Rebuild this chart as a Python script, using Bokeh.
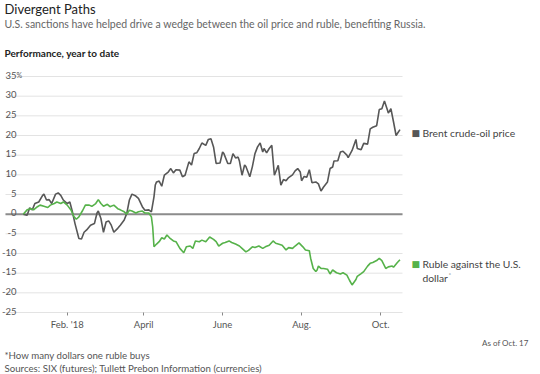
from bokeh.plotting import figure
from bokeh.models import Label, FixedTicker, Range1d, ColumnDataSource
from bokeh.core.properties import value
from bokeh.embed import file_html
from bokeh.resources import INLINE

# ---- data (days since Jan 1 2018, % change year to date) ----
brent_day = [-3, 0, 2, 4, 6, 9, 12, 13, 15, 17, 19, 22, 24, 26, 28, 31, 33, 35, 37, 40, 42, 44, 46, 49,
             52, 54, 55, 57, 59, 61, 63, 65, 67, 70, 72, 75, 77, 79, 81, 84, 86, 89, 91, 94, 96, 98,
             99, 100, 102, 104, 106, 109, 111, 113, 115, 118, 120, 122, 125, 127, 129, 131, 133, 135,
             138, 140, 142, 144, 146, 149, 151, 152, 155, 157, 159, 161, 163, 164, 166, 168, 169, 172,
             174, 176, 178, 180, 182, 183, 185, 187, 189, 191, 194, 196, 198, 200, 202, 205, 207, 209,
             211, 212, 214, 216, 218, 220, 223, 225, 227, 229, 232, 234, 236, 237, 240, 242, 244, 247,
             248, 251, 254, 255, 258, 260, 263, 265, 267, 270, 272, 274, 276, 278, 279, 281, 283, 285,
             286, 288]
brent_val = [0, -0.3, 1.6, 1.1, 2.7, 3.1, 4.8, 5.1, 3.6, 3.7, 2.7, 5.1, 5.4, 4.8, 3.6, 2.7, 3.1, 0.6,
             -2.4, -6.2, -6.3, -4.6, -4.0, -2.8, -2.4, 0.3, 0.8, -1.1, -4.6, -2.0, -1.7, -2.8, -4.6,
             -3.6, -2.8, -1.5, 0.2, 3.6, 5.1, 4.6, 4.0, 1.9, 1.0, 1.1, 0.6, 4.4, 7.4, 8.2, 8.4, 7.1,
             9.9, 10.7, 11.6, 10.5, 11.3, 11.2, 9.5, 9.9, 13.3, 12.5, 15.4, 15.6, 16.7, 18.1, 17.5,
             19.0, 19.2, 17.1, 12.9, 13.0, 15.8, 15.4, 12.9, 12.9, 15.4, 14.3, 14.5, 13.5, 9.9, 12.5,
             12.1, 9.5, 12.1, 15.4, 17.1, 18.1, 15.8, 16.7, 15.6, 16.7, 17.5, 9.9, 12.4, 7.4, 8.8, 8.5,
             9.3, 10.0, 11.0, 11.6, 10.7, 8.5, 9.6, 9.4, 11.3, 8.0, 8.2, 7.7, 5.9, 6.9, 8.2, 11.6,
             12.0, 13.5, 13.6, 15.8, 16.0, 15.0, 14.4, 16.2, 19.0, 16.7, 16.4, 18.0, 17.8, 21.7, 22.1,
             22.5, 26.6, 26.8, 28.8, 26.8, 25.7, 26.8, 23.5, 20.0, 20.5, 21.5]

ruble_day = [-3, 0, 3, 5, 8, 10, 13, 16, 18, 21, 23, 26, 28, 31, 34, 36, 38, 40, 43, 45, 48, 50, 53,
             55, 57, 59, 62, 64, 67, 70, 72, 75, 77, 79, 81, 84, 86, 89, 91, 94, 96, 97, 98, 100, 102,
             104, 106, 108, 110, 113, 115, 118, 121, 123, 126, 128, 130, 133, 135, 138, 141, 144, 146,
             148, 151, 153, 156, 158, 161, 164, 166, 169, 171, 174, 176, 179, 182, 184, 187, 190, 192,
             194, 197, 200, 202, 205, 207, 210, 213, 215, 218, 219, 221, 223, 224, 225, 227, 229, 232,
             234, 236, 239, 242, 244, 247, 249, 251, 254, 255, 258, 260, 263, 265, 267, 270, 272, 274,
             277, 279, 282, 283, 286, 288]
ruble_val = [0, 1.1, 1.4, 1.1, 1.9, 2.3, 2.0, 1.7, 2.3, 2.7, 3.1, 2.7, 3.1, 2.3, 1.0, -0.5, -1.3, -0.7,
             1.0, 2.3, 2.3, 2.0, 2.7, 3.7, 2.7, 2.0, 2.5, 1.9, 2.3, 1.4, 1.1, 0.6, 0.0, 1.0, 0.8, 0.3,
             0.6, 0.8, 0.3, 0.3, -0.7, -3.2, -8.3, -7.6, -7.0, -6.0, -6.3, -5.3, -6.0, -6.8, -7.0,
             -8.7, -9.8, -8.3, -8.1, -8.7, -6.8, -7.0, -6.6, -7.0, -5.8, -6.4, -7.0, -8.1, -7.4, -7.2,
             -6.8, -7.2, -7.6, -8.1, -8.7, -9.6, -9.2, -8.3, -8.5, -8.1, -8.7, -8.3, -7.9, -6.8, -7.4,
             -7.6, -7.9, -9.1, -8.5, -8.7, -8.1, -7.3, -8.3, -9.1, -9.3, -11.2, -13.8, -14.6, -14.2,
             -13.2, -13.8, -13.8, -14.0, -15.2, -14.2, -14.9, -15.2, -14.9, -15.5, -16.8, -18.0, -16.6,
             -15.8, -15.1, -14.6, -13.2, -12.5, -12.3, -11.8, -11.2, -11.8, -13.8, -13.4, -13.2,
             -13.5, -12.3, -11.6]

y_ticks = [-25, -20, -15, -10, -5, 0, 5, 10, 15, 20, 25, 30, 35]
y_tick_labels = ["-25", "-20", "-15", "-10", "-5", "0", "5", "10", "15", "20", "25", "30", "35"]
x_ticks = [31, 90, 151, 212, 273]
x_tick_labels = ["Feb. '18", "April", "June", "Aug.", "Oct."]

FONT = "Lato"
GREY_LINE = "#575757"
GREEN = "#56b24a"
TXT = "#555555"

W, H = 540, 374
# pixel geometry of the plot area (canvas coordinates, origin top-left)
PX0, PX_PER_DAY = 26.6, 1.2947          # x pixel of Jan 1, pixels per day
PY0, PY_PER_PCT = 213.67, 3.9333        # y pixel of 0 %, pixels per percentage point
GRID_L, GRID_R = 5, 402


def dx(px):
    return (px - PX0) / PX_PER_DAY


def dy(py):
    return (PY0 - py) / PY_PER_PCT


p = figure(width=W, height=H, output_backend="svg", toolbar_location=None,
           x_range=Range1d(dx(0), dx(W)), y_range=Range1d(dy(H), dy(0)),
           y_axis_location=None, tools="",
           min_border_left=0, min_border_top=0, min_border_right=0, min_border_bottom=0)
p.outline_line_color = None
p.background_fill_color = "white"
p.border_fill_color = "white"
p.xgrid.visible = False
p.ygrid.visible = False

# horizontal grid lines
p.segment(x0=[dx(GRID_L)] * len(y_ticks), x1=[dx(GRID_R)] * len(y_ticks), y0=y_ticks, y1=y_ticks,
          line_color="#e3e3e3", line_width=1)
# zero line
p.segment(x0=[dx(GRID_L)], x1=[dx(GRID_R)], y0=[0], y1=[0], line_color="#8c8c8c", line_width=2)

# x axis fixed at the bottom grid line
ax = p.xaxis[0]
ax.fixed_location = y_ticks[0]
ax.bounds = (dx(GRID_L), dx(GRID_R))
ax.ticker = FixedTicker(ticks=x_ticks)
ax.major_label_overrides = {t: l for t, l in zip(x_ticks, x_tick_labels)}
ax.minor_tick_line_color = None
ax.axis_line_color = None
ax.major_tick_line_color = "#888888"
ax.major_tick_in = 0
ax.major_tick_out = 3
ax.major_label_standoff = 3
ax.major_label_text_font = FONT
ax.major_label_text_font_size = "9.5px"
ax.major_label_text_color = TXT

p.line(brent_day, brent_val, line_color=GREY_LINE, line_width=1.6)
p.line(ruble_day, ruble_val, line_color=GREEN, line_width=1.6)

ysrc = ColumnDataSource(dict(x=[dx(16)] * len(y_ticks), y=y_ticks, t=y_tick_labels))
p.text(x="x", y="y", text="t", source=ysrc, y_offset=-1.5,
       text_align="right", text_baseline="alphabetic", text_font=value(FONT),
       text_font_size="9.5px", text_color=TXT)
p.text(x=[dx(16)], y=[y_ticks[-1]], text=["%"], y_offset=-1.5, text_align="left",
       text_baseline="alphabetic", text_font=value(FONT), text_font_size="7px", text_color=TXT)


def lab(text, px, py, size, color, style="normal", align="left", font=FONT):
    p.add_layout(Label(x=px, y=H - py, x_units="screen", y_units="screen",
                       text=text, text_font=font, text_font_size=size, text_color=color,
                       text_font_style=style, text_align=align, text_baseline="middle"))


lab("Divergent Paths", 4, 8, "13px", "#222222")
lab("U.S. sanctions have helped drive a wedge between the oil price and ruble, benefiting Russia.",
    4, 23, "10.5px", "#666666")
lab("Performance, year to date", 4, 52, "10px", "#222222", style="bold")

lab("\u25A0", 411, 132, "9px", GREY_LINE, font="DejaVu Sans")
lab("Brent crude-oil price", 422, 132, "10.3px", "#444444")
lab("\u25A0", 411, 263, "9px", GREEN, font="DejaVu Sans")
lab("Ruble against the U.S.", 422, 263, "10.3px", "#444444")
lab("dollar", 422, 277, "10.3px", "#444444")
lab("*", 448, 274, "6.5px", "#888888")

lab("As of Oct. 17", 528, 342, "8px", TXT, align="right")
lab("*How many dollars one ruble buys", 4, 354, "9.7px", TXT)
lab("Sources: SIX (futures); Tullett Prebon Information (currencies)", 4, 367, "9.7px", TXT)

open("out.html", "w").write(file_html(p, INLINE))
